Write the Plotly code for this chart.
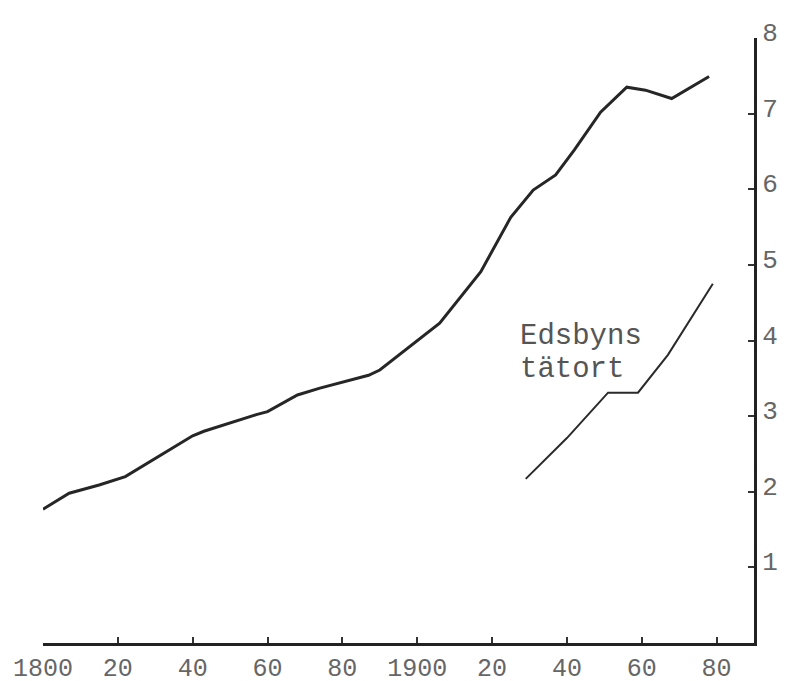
import plotly.graph_objects as go

# Main series (Ovanåker, thousands)
main_years = [1800, 1807, 1815, 1822, 1840, 1843, 1857, 1860, 1868, 1874, 1887, 1890,
              1906, 1917, 1925, 1931, 1937, 1942, 1949, 1956, 1961, 1968, 1978]
main_vals = [1.77, 1.98, 2.09, 2.20, 2.74, 2.80, 3.02, 3.06, 3.28, 3.37, 3.54, 3.61,
             4.23, 4.91, 5.63, 5.99, 6.19, 6.52, 7.02, 7.35, 7.31, 7.20, 7.49]

# Edsbyns tätort
eds_years = [1929, 1940, 1951, 1959, 1967, 1979]
eds_vals = [2.17, 2.71, 3.31, 3.31, 3.81, 4.75]

x_tickvals = [1800, 1820, 1840, 1860, 1880, 1900, 1920, 1940, 1960, 1980]
x_ticktext = ["1800", "20", "40", "60", "80", "1900", "20", "40", "60", "80"]
y_tickvals = [1, 2, 3, 4, 5, 6, 7, 8]
y_ticktext = ["1", "2", "3", "4", "5", "6", "7", "8"]

label_lines = ["Edsbyns", "tätort"]

fig = go.Figure()
fig.add_trace(go.Scatter(x=main_years, y=main_vals, mode="lines",
                         line=dict(color="#262626", width=3), showlegend=False,
                         hoverinfo="skip"))
fig.add_trace(go.Scatter(x=eds_years, y=eds_vals, mode="lines",
                         line=dict(color="#2a2a2a", width=2), showlegend=False,
                         hoverinfo="skip"))

tick_font = dict(family="Liberation Mono", size=25, color="#666666")

fig.update_layout(
    width=789, height=681,
    margin=dict(l=35, r=43, t=30, b=46, autoexpand=False),
    paper_bgcolor="white", plot_bgcolor="white",
    xaxis=dict(range=[1800, 1990], showgrid=False, zeroline=False,
               showline=True, linecolor="#222222", linewidth=3,
               tickvals=x_tickvals, ticktext=x_ticktext,
               ticks="inside", ticklen=6, tickwidth=1.5, tickcolor="#333333",
               tickfont=tick_font, automargin=False, ticklabelstandoff=0),
    yaxis=dict(range=[0, 8], side="right", showgrid=False, zeroline=False,
               showline=True, linecolor="#222222", linewidth=3,
               tickvals=y_tickvals, ticktext=y_ticktext,
               ticks="inside", ticklen=6, tickwidth=1.5, tickcolor="#333333",
               tickfont=dict(family="Liberation Mono", size=26, color="#666666"),
               automargin=False, ticklabelshift=-6),
    annotations=[
        dict(x=1926.8, y=4.05, xref="x", yref="y", text=label_lines[0],
             showarrow=False, xanchor="left", yanchor="middle",
             font=dict(family="Liberation Mono", size=29, color="#555555")),
        dict(x=1926.8, y=3.62, xref="x", yref="y", text=label_lines[1],
             showarrow=False, xanchor="left", yanchor="middle",
             font=dict(family="Liberation Mono", size=29, color="#555555")),
    ],
)

fig.write_html("out.html")
